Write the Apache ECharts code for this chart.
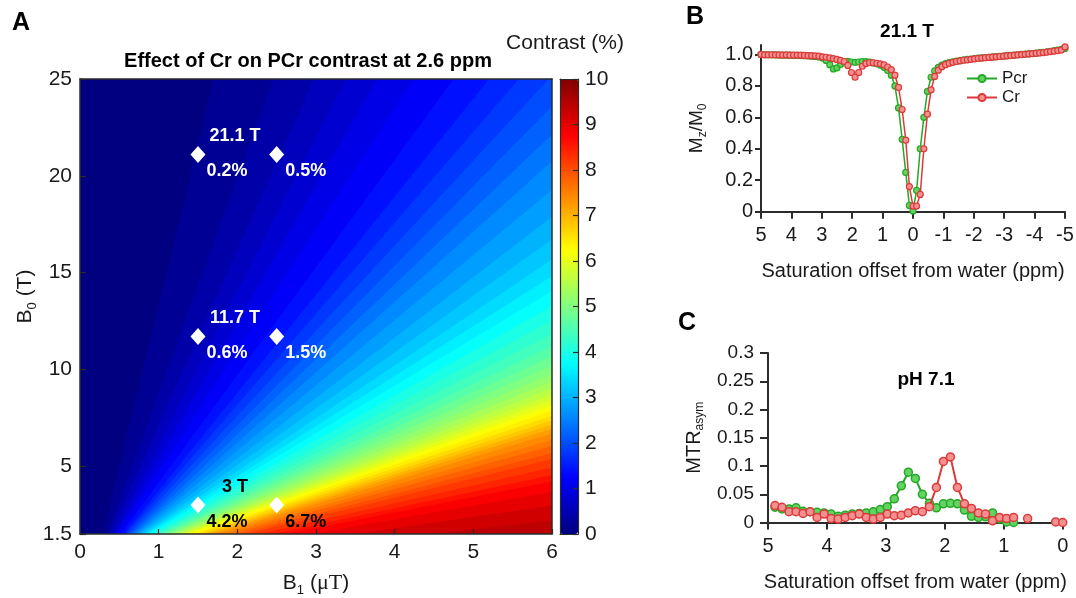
<!DOCTYPE html>
<html><head><meta charset="utf-8">
<script src="https://cdn.jsdelivr.net/npm/echarts@6/dist/echarts.min.js"></script>
<style>html,body{margin:0;padding:0;background:#fff}#c{width:1076px;height:598px}</style>
</head><body><div id="c"></div>
<script>
// ================= Panel A : contrast map =================
const b1Range = [0, 6];
const b0Range = [1.5, 25];
const b1TickInterval = 1;
const b0TickValues = [1.5, 5, 10, 15, 20, 25];
const colorbarRange = [0, 10];
// filled-contour levels (%) and where each contour meets B0 = 1.5 T and B0 = 25 T (B1 in uT)
const contourLevels = [0, 0.2, 0.4, 0.6, 0.8, 1.0, 1.2, 1.4, 1.6, 1.8, 2.0, 2.2, 2.4, 2.6, 2.8, 3.0, 3.2, 3.4, 3.6, 3.8,
  4.0, 4.2, 4.4, 4.6, 4.8, 5.0, 5.2, 5.4, 5.6, 5.8, 6.0, 6.2, 6.4, 6.6, 6.8, 7.0, 7.2, 7.4, 7.6, 7.8,
  8.0, 8.2, 8.4, 8.6, 8.8, 9.0, 9.2, 9.4];
const contourB1AtB0Min = [0, 0.29, 0.35, 0.38, 0.42, 0.45, 0.48, 0.52, 0.56, 0.58, 0.61, 0.64, 0.67, 0.70, 0.72, 0.75, 0.78, 0.81, 0.84, 0.87,
  0.91, 0.95, 0.99, 1.03, 1.07, 1.11, 1.15, 1.19, 1.24, 1.28, 1.32, 1.37, 1.43, 1.48, 1.54, 1.60, 1.66, 1.73, 1.82, 1.91,
  2.02, 2.12, 2.28, 2.45, 2.61, 2.93, 3.49, 4.46];
const contourB1AtB0Max = [0, 1.70, 2.46, 2.97, 3.38, 3.78, 4.24, 4.75, 5.20, 5.58, 5.96, 6.34, 6.74, 7.17, 7.70, 8.28, 8.84, 9.41, 9.94, 10.48,
  11.07, 11.73, 12.39, 13.07, 13.69, 14.32, 14.94, 15.57, 16.12, 16.68, 17.18, 17.70, 18.28, 18.87, 19.41, 19.93, 20.44, 21.04, 22.06, 23.08,
  24.35, 25.62, 27.74, 29.86, 31.98, 36.23, 43.44, 56.16];
// marked operating points
const markerB1 = [1.5, 2.5];
const markerB0 = [3, 11.7, 21.1];
const markerContrast = [[4.2, 6.7], [0.6, 1.5], [0.2, 0.5]];

// ================= Panel B : Z-spectra at 21.1 T =================
const zOffsets = [5, 4.881, 4.762, 4.643, 4.524, 4.405, 4.286, 4.167, 4.048, 3.929, 3.81, 3.69, 3.571, 3.452, 3.333, 3.214, 3.095,
  2.976, 2.857, 2.738, 2.619, 2.5, 2.381, 2.262, 2.143, 2.024, 1.905, 1.786, 1.667, 1.548, 1.429, 1.31, 1.19, 1.071, 0.952,
  0.833, 0.714, 0.595, 0.476, 0.357, 0.238, 0.119, 0, -0.119, -0.238, -0.357, -0.476, -0.595, -0.714, -0.833, -0.952, -1.071,
  -1.19, -1.31, -1.429, -1.548, -1.667, -1.786, -1.905, -2.024, -2.143, -2.262, -2.381, -2.5, -2.619, -2.738, -2.857, -2.976,
  -3.095, -3.214, -3.333, -3.452, -3.571, -3.69, -3.81, -3.929, -4.048, -4.167, -4.286, -4.405, -4.524, -4.643, -4.762, -4.881, -5];
const zPcr = [1.000, 0.998, 0.998, 0.997, 0.997, 0.996, 0.996, 0.995, 0.995, 0.994, 0.994, 0.993, 0.992, 0.991, 0.989, 0.987, 0.984,
  0.977, 0.962, 0.935, 0.908, 0.915, 0.938, 0.952, 0.956, 0.952, 0.950, 0.952, 0.955, 0.954, 0.951, 0.946, 0.940, 0.932, 0.918,
  0.898, 0.868, 0.800, 0.660, 0.460, 0.250, 0.040, 0.005, 0.135, 0.400, 0.600, 0.765, 0.855, 0.895, 0.918, 0.932, 0.941,
  0.948, 0.953, 0.957, 0.961, 0.965, 0.968, 0.971, 0.974, 0.976, 0.978, 0.980, 0.982, 0.984, 0.986, 0.988, 0.990,
  0.992, 0.994, 0.996, 0.998, 1.000, 1.002, 1.004, 1.006, 1.008, 1.011, 1.014, 1.017, 1.020, 1.024, 1.028, 1.032, 1.038];
const zCr = [1.000, 0.997, 0.997, 0.998, 0.997, 0.997, 0.996, 0.997, 0.995, 0.996, 0.996, 0.995, 0.994, 0.992, 0.992, 0.991, 0.989,
  0.985, 0.982, 0.978, 0.973, 0.968, 0.962, 0.955, 0.930, 0.885, 0.855, 0.885, 0.925, 0.942, 0.947, 0.947, 0.944, 0.940, 0.933,
  0.920, 0.903, 0.868, 0.790, 0.650, 0.455, 0.160, 0.036, 0.036, 0.110, 0.400, 0.620, 0.775, 0.860, 0.900, 0.922, 0.935,
  0.943, 0.950, 0.955, 0.959, 0.963, 0.966, 0.969, 0.972, 0.975, 0.977, 0.979, 0.981, 0.983, 0.985, 0.987, 0.989,
  0.991, 0.993, 0.995, 0.997, 0.999, 1.001, 1.003, 1.005, 1.007, 1.009, 1.012, 1.015, 1.018, 1.021, 1.024, 1.028, 1.048];
const zXRange = [-5, 5];
const zYRange = [0, 1.06];
const zYTicks = [0, 0.2, 0.4, 0.6, 0.8, 1.0];

// ================= Panel C : MTRasym at pH 7.1 =================
const mtrOffsets = [4.881, 4.762, 4.643, 4.524, 4.405, 4.286, 4.167, 4.048, 3.929, 3.81, 3.69, 3.571, 3.452, 3.333, 3.214, 3.095,
  2.976, 2.857, 2.738, 2.619, 2.5, 2.381, 2.262, 2.143, 2.024, 1.905, 1.786, 1.667, 1.548, 1.429, 1.31, 1.19, 1.071, 0.952,
  0.833, 0.714, 0.595, 0.476, 0.357, 0.238, 0.119, 0];
const mtrPcr = [0.027, 0.024, 0.024, 0.026, 0.020, 0.019, 0.018, 0.017, 0.015, 0.011, 0.013, 0.015, 0.016, 0.017, 0.019, 0.023,
  0.028, 0.042, 0.065, 0.089, 0.078, 0.050, 0.034, 0.026, 0.033, 0.034, 0.033, 0.022, 0.011, 0.009, 0.010, 0.017, 0.006, 0.001,
  0.000, null, null, null, null, null, null, null];
const mtrCr = [0.030, 0.027, 0.019, 0.019, 0.016, 0.019, 0.009, 0.015, 0.007, 0.006, 0.009, 0.012, 0.015, 0.009, 0.006, 0.009,
  0.015, 0.012, 0.013, 0.017, 0.021, 0.019, 0.028, 0.062, 0.108, 0.116, 0.062, 0.033, 0.025, 0.017, 0.015, 0.003, 0.009, 0.007,
  0.009, null, 0.007, null, null, null, 0.001, 0.000];
const mtrXRange = [0, 5];
const mtrYRange = [0, 0.3];
const mtrYInterval = 0.05;

// ================= styles =================
const FONT = 'Liberation Sans, Arial, sans-serif';
const INK = '#1a1a1a';
const AX = '#2b2b2b';
const jet = ['#000080', '#0000ff', '#0080ff', '#00ffff', '#80ff80', '#ffff00', '#ff8000', '#ff0000', '#800000'];
const GREEN = '#25a825', GREEN_FILL = '#63d363';
const RED = '#dc3a3a', RED_FILL = '#f39090';

function clipPolygon(pts, x0, y0, x1, y1) {
  let out = pts;
  const clipEdge = (inside, cross) => {
    const input = out; out = [];
    for (let i = 0; i < input.length; i++) {
      const cur = input[i], prev = input[(i + input.length - 1) % input.length];
      const cIn = inside(cur), pIn = inside(prev);
      if (cIn) { if (!pIn) out.push(cross(prev, cur)); out.push(cur); }
      else if (pIn) out.push(cross(prev, cur));
    }
  };
  const ix = xv => (a, b) => { const t = (xv - a[0]) / (b[0] - a[0]); return [xv, a[1] + t * (b[1] - a[1])]; };
  const iy = yv => (a, b) => { const t = (yv - a[1]) / (b[1] - a[1]); return [a[0] + t * (b[0] - a[0]), yv]; };
  clipEdge(p => p[0] >= x0, ix(x0));
  clipEdge(p => p[0] <= x1, ix(x1));
  clipEdge(p => p[1] >= y0, iy(y0));
  clipEdge(p => p[1] <= y1, iy(y1));
  return out;
}

const contourData = contourLevels.map((lv, i) => [lv, contourB1AtB0Min[i], contourB1AtB0Max[i]]);
const diamondData = [];
const fieldData = [];
markerB0.forEach((b0, i) => {
  const txt = b0 < 5 ? '#000' : '#fff';
  markerB1.forEach((b1, j) => {
    diamondData.push({ value: [b1, b0, markerContrast[i][j]], label: { color: txt } });
  });
  fieldData.push({ value: [markerB1[0], b0], name: b0 + ' T', label: { color: txt } });
});
const pairs = (xs, ys) => xs.map((x, i) => [x, ys[i]]);

const tickLabel = (size) => ({ fontSize: size, color: INK, fontFamily: FONT });
const subRich = (size, pad) => ({ s: { fontSize: size, padding: [pad, 0, 0, 0], fontFamily: FONT, color: INK } });

const chart = echarts.init(document.getElementById('c'), null, { renderer: 'canvas' });
chart.setOption({
  animation: false,
  backgroundColor: '#fff',
  textStyle: { fontFamily: FONT },
  grid: [
    { left: 80, top: 79, width: 472, height: 455, outerBoundsMode: 'none' },
    { left: 761, top: 45, width: 304, height: 166.7, outerBoundsMode: 'none' },
    { left: 768, top: 353, width: 294.7, height: 169.5, outerBoundsMode: 'none' },
    { left: 560, top: 79, width: 18, height: 455, outerBoundsMode: 'none' }
  ],
  xAxis: [
    { type: 'value', gridIndex: 0, min: b1Range[0], max: b1Range[1], interval: b1TickInterval, z: 10,
      axisLine: { onZero: false, lineStyle: { color: AX, width: 1.5 } },
      axisTick: { inside: true, length: 5, lineStyle: { color: AX, width: 1.2 } },
      axisLabel: Object.assign({ margin: 8 }, tickLabel(21)), splitLine: { show: false },
      name: 'B{s|1} ({u|μT})', nameLocation: 'middle', nameGap: 36,
      nameTextStyle: { fontSize: 21, color: INK, fontFamily: FONT,
        rich: { s: { fontSize: 13, padding: [14, 0, 0, 0], color: INK }, u: { fontFamily: 'Liberation Serif, serif', fontSize: 22, color: INK } } } },
    { type: 'value', gridIndex: 0, position: 'top', min: b1Range[0], max: b1Range[1], z: 10,
      axisLine: { onZero: false, lineStyle: { color: AX, width: 1.5 } }, axisTick: { show: false }, axisLabel: { show: false }, splitLine: { show: false } },
    { type: 'value', gridIndex: 1, min: zXRange[0], max: zXRange[1], interval: 1, inverse: true,
      axisLine: { onZero: false, lineStyle: { color: AX, width: 2 } },
      axisTick: { length: 7, lineStyle: { color: AX, width: 2 } },
      axisLabel: Object.assign({ margin: 14 }, tickLabel(20)), splitLine: { show: false },
      name: 'Saturation offset from water (ppm)', nameLocation: 'middle', nameGap: 50,
      nameTextStyle: { fontSize: 20, color: INK, fontFamily: FONT } },
    { type: 'value', gridIndex: 2, min: mtrXRange[0], max: mtrXRange[1], interval: 1, inverse: true,
      axisLine: { onZero: false, lineStyle: { color: AX, width: 2 } },
      axisTick: { length: 7, lineStyle: { color: AX, width: 2 } },
      axisLabel: Object.assign({ margin: 14 }, tickLabel(20)), splitLine: { show: false },
      name: 'Saturation offset from water (ppm)', nameLocation: 'middle', nameGap: 50,
      nameTextStyle: { fontSize: 20, color: INK, fontFamily: FONT } },
    { type: 'value', gridIndex: 3, min: 0, max: 1, z: 10,
      axisLine: { onZero: false, lineStyle: { color: AX, width: 1.2 } }, axisTick: { show: false }, axisLabel: { show: false }, splitLine: { show: false } },
    { type: 'value', gridIndex: 3, position: 'top', min: 0, max: 1, z: 10,
      axisLine: { onZero: false, lineStyle: { color: AX, width: 1.2 } }, axisTick: { show: false }, axisLabel: { show: false }, splitLine: { show: false } }
  ],
  yAxis: [
    { type: 'value', gridIndex: 0, min: b0Range[0], max: b0Range[1], z: 10,
      axisLine: { onZero: false, lineStyle: { color: AX, width: 1.5 } },
      axisTick: { inside: true, length: 6, customValues: b0TickValues, lineStyle: { color: AX, width: 1.2 } },
      axisLabel: Object.assign({ margin: 8, customValues: b0TickValues }, tickLabel(21)), splitLine: { show: false },
      name: 'B{s|0} (T)', nameLocation: 'middle', nameGap: 40, nameRotate: 90,
      nameTextStyle: { fontSize: 21, color: INK, fontFamily: FONT, padding: [0, 0, 0, 20], rich: subRich(13, 14) } },
    { type: 'value', gridIndex: 0, position: 'right', min: b0Range[0], max: b0Range[1], z: 10,
      axisLine: { onZero: false, lineStyle: { color: AX, width: 1.5 } }, axisTick: { show: false }, axisLabel: { show: false }, splitLine: { show: false } },
    { type: 'value', gridIndex: 1, min: zYRange[0], max: zYRange[1],
      axisLine: { onZero: false, lineStyle: { color: AX, width: 2 } },
      axisTick: { length: 6, customValues: zYTicks, lineStyle: { color: AX, width: 2 } },
      axisLabel: Object.assign({ margin: 8, customValues: zYTicks, formatter: v => (v === 0 ? '0' : v.toFixed(1)) }, tickLabel(20)),
      splitLine: { show: false },
      name: 'M{s|z}/M{s|0}', nameLocation: 'middle', nameGap: 52, nameRotate: 90,
      nameTextStyle: { fontSize: 19, color: INK, fontFamily: FONT, rich: subRich(12, 12) } },
    { type: 'value', gridIndex: 2, min: mtrYRange[0], max: mtrYRange[1], interval: mtrYInterval,
      axisLine: { onZero: false, lineStyle: { color: AX, width: 2 } },
      axisTick: { length: 8, lineStyle: { color: AX, width: 2 } },
      axisLabel: Object.assign({ margin: 14 }, tickLabel(19)), splitLine: { show: false },
      name: 'MTR{s|asym}', nameLocation: 'middle', nameGap: 62, nameRotate: 90,
      nameTextStyle: { fontSize: 20, color: INK, fontFamily: FONT, rich: subRich(12, 12) } },
    { type: 'value', gridIndex: 3, min: colorbarRange[0], max: colorbarRange[1], z: 10,
      axisLine: { onZero: false, lineStyle: { color: AX, width: 1.2 } }, axisTick: { show: false }, axisLabel: { show: false }, splitLine: { show: false } },
    { type: 'value', gridIndex: 3, position: 'right', min: colorbarRange[0], max: colorbarRange[1], interval: 1, z: 10,
      axisLine: { onZero: false, lineStyle: { color: AX, width: 1.2 } },
      axisTick: { inside: true, length: 5, lineStyle: { color: AX, width: 1.2 } },
      axisLabel: Object.assign({ margin: 7 }, tickLabel(21)), splitLine: { show: false } }
  ],
  visualMap: {
    type: 'continuous', seriesIndex: 0, dimension: 0, min: colorbarRange[0], max: colorbarRange[1],
    orient: 'vertical', left: 560, top: 79, itemWidth: 18, itemHeight: 455, padding: 0,
    calculable: false, hoverLink: false, inRange: { color: jet }, textStyle: { color: 'transparent' }
  },
  legend: {
    data: ['Pcr', 'Cr'], orient: 'vertical', left: 966, top: 70, itemWidth: 30, itemHeight: 9, itemGap: 2, padding: 0,
    textStyle: { fontSize: 17, color: INK, fontFamily: FONT }
  },
  graphic: [
    { type: 'text', x: 21, y: 23, style: { text: 'A', font: 'bold 25px ' + FONT, fill: '#000', align: 'center', verticalAlign: 'middle' } },
    { type: 'text', x: 695, y: 17, style: { text: 'B', font: 'bold 25px ' + FONT, fill: '#000', align: 'center', verticalAlign: 'middle' } },
    { type: 'text', x: 687, y: 323, style: { text: 'C', font: 'bold 25px ' + FONT, fill: '#000', align: 'center', verticalAlign: 'middle' } },
    { type: 'text', x: 308, y: 61, style: { text: 'Effect of Cr on PCr contrast at 2.6 ppm', font: 'bold 20px ' + FONT, fill: '#000', align: 'center', verticalAlign: 'middle' } },
    { type: 'text', x: 565, y: 43, style: { text: 'Contrast (%)', font: '21px ' + FONT, fill: INK, align: 'center', verticalAlign: 'middle' } },
    { type: 'text', x: 907, y: 32, style: { text: '21.1 T', font: 'bold 19px ' + FONT, fill: '#000', align: 'center', verticalAlign: 'middle' } },
    { type: 'text', x: 926, y: 380, style: { text: 'pH 7.1', font: 'bold 19px ' + FONT, fill: '#000', align: 'center', verticalAlign: 'middle' } }
  ],
  series: [
    { type: 'custom', xAxisIndex: 0, yAxisIndex: 0, data: contourData, silent: true, z: 1,
      renderItem: function (params, api) {
        const b = api.value(1), t = api.value(2);
        const cs = params.coordSys;
        const far = Math.max(b, t, b1Range[1]) + 1;
        const pts = [api.coord([b, b0Range[0]]), api.coord([t, b0Range[1]]), api.coord([far, b0Range[1]]), api.coord([far, b0Range[0]])];
        const poly = clipPolygon(pts, cs.x, cs.y, cs.x + cs.width, cs.y + cs.height);
        if (poly.length < 3) return null;
        return { type: 'polygon', shape: { points: poly }, style: { fill: api.visual('color'), stroke: null } };
      } },
    { type: 'scatter', xAxisIndex: 0, yAxisIndex: 0, data: diamondData, symbol: 'diamond', symbolSize: [15, 17], z: 5, silent: true,
      itemStyle: { color: '#fff', opacity: 1 },
      label: { show: true, position: 'inside', offset: [29, 17], formatter: p => p.value[2] + '%',
        fontSize: 18, fontWeight: 'bold', fontFamily: FONT, textBorderWidth: 0, opacity: 1 } },
    { type: 'scatter', xAxisIndex: 0, yAxisIndex: 0, data: fieldData, symbol: 'circle', symbolSize: 0, z: 5, silent: true,
      itemStyle: { color: '#fff', opacity: 1 },
      label: { show: true, position: 'inside', offset: [37, -18], formatter: '{b}', fontSize: 18, fontWeight: 'bold',
        fontFamily: FONT, textBorderWidth: 0, opacity: 1 } },
    { name: 'Pcr', type: 'line', xAxisIndex: 2, yAxisIndex: 2, data: pairs(zOffsets, zPcr), symbol: 'circle', symbolSize: 6,
      lineStyle: { color: GREEN, width: 1.5 }, itemStyle: { color: GREEN_FILL, borderColor: GREEN, borderWidth: 1.2 }, z: 3 },
    { name: 'Cr', type: 'line', xAxisIndex: 2, yAxisIndex: 2, data: pairs(zOffsets, zCr), symbol: 'circle', symbolSize: 6,
      lineStyle: { color: RED, width: 1.5 }, itemStyle: { color: RED_FILL, borderColor: RED, borderWidth: 1.2 }, z: 4 },
    { name: 'Pcr', type: 'line', xAxisIndex: 3, yAxisIndex: 3, data: pairs(mtrOffsets, mtrPcr), symbol: 'circle', symbolSize: 8,
      lineStyle: { color: GREEN, width: 2 }, itemStyle: { color: GREEN_FILL, borderColor: GREEN, borderWidth: 1.5 }, z: 3 },
    { name: 'Cr', type: 'line', xAxisIndex: 3, yAxisIndex: 3, data: pairs(mtrOffsets, mtrCr), symbol: 'circle', symbolSize: 8,
      lineStyle: { color: RED, width: 2 }, itemStyle: { color: RED_FILL, borderColor: RED, borderWidth: 1.5 }, z: 4 }
  ]
});
</script></body></html>
